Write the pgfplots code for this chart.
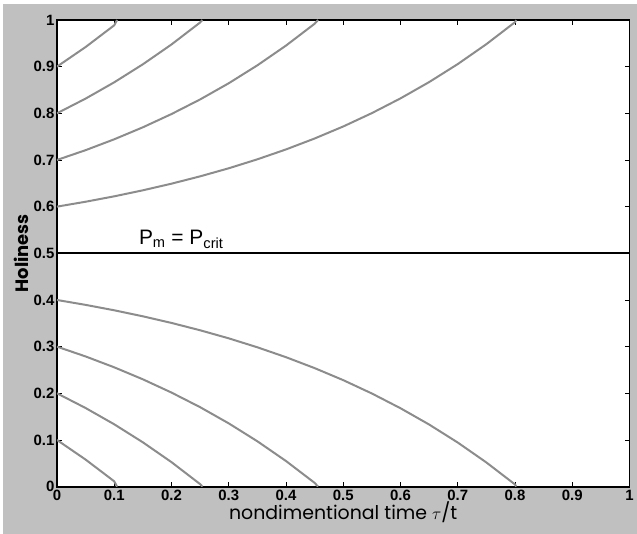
\documentclass[border=0pt]{standalone}
\usepackage{pgfplots}
\pgfplotsset{compat=1.18}
\usepackage{fontspec}
\setmainfont{Liberation Sans}
\newfontfamily\geo{Poppins}
\definecolor{bggray}{RGB}{192,192,192}
\definecolor{curve}{RGB}{140,140,140}
\begin{document}
\begin{tikzpicture}
\fill[white] (-57bp,-47bp) rectangle (580bp,487bp);
\fill[bggray] (-54bp,-47bp) rectangle (580bp,483bp);
\begin{axis}[
    scale only axis,
    width=573bp, height=467bp,
    xmin=0, xmax=1, ymin=0, ymax=1,
    axis background/.style={fill=white},
    axis line style={black, line width=1.8pt},
    tick style={black, line width=0.8pt},
    tick align=inside,
    major tick length=5bp,
    xtick={0,0.1,...,1}, ytick={0,0.1,...,1},
    xticklabels={0,0.1,0.2,0.3,0.4,0.5,0.6,0.7,0.8,0.9,1},
    yticklabels={0,0.1,0.2,0.3,0.4,0.5,0.6,0.7,0.8,0.9,1},
    ticklabel style={font=\fontsize{15}{15}\selectfont\bfseries},
    xticklabel style={yshift=0bp},
    yticklabel style={xshift=1bp},
    xlabel={\geo nondimentional time $\tau$/t},
    ylabel={\geo Holiness},
    xlabel style={font=\fontsize{19}{19}\selectfont, yshift=6bp},
    ylabel style={font=\fontsize{18}{18}\selectfont\bfseries, yshift=-2bp},
]
% lower branch
\addplot[curve, line width=2pt] coordinates {(0,0.4)(0.05,0.3895)(0.1,0.3779)(0.15,0.365)(0.2,0.3508)(0.25,0.3351)(0.3,0.3178)(0.35,0.2986)(0.4,0.2774)(0.45,0.254)(0.5,0.2282)(0.55,0.1996)(0.6,0.168)(0.65,0.1331)(0.7,0.0945)(0.75,0.0518)(0.8,0.0047)(0.802,0)};
\addplot[curve, line width=2pt] coordinates {(0,0.3)(0.05,0.279)(0.1,0.2557)(0.15,0.23)(0.2,0.2016)(0.25,0.1703)(0.3,0.1356)(0.35,0.0972)(0.4,0.0549)(0.45,0.0081)(0.456,0)};
\addplot[curve, line width=2pt] coordinates {(0,0.2)(0.05,0.1685)(0.1,0.1336)(0.15,0.095)(0.2,0.0525)(0.25,0.0054)(0.254,0)};
\addplot[curve, line width=2pt] coordinates {(0,0.1)(0.05,0.058)(0.1,0.0114)(0.105,0)};
% upper branch
\addplot[curve, line width=2pt] coordinates {(0,0.6)(0.05,0.6105)(0.1,0.6221)(0.15,0.635)(0.2,0.6492)(0.25,0.6649)(0.3,0.6822)(0.35,0.7014)(0.4,0.7226)(0.45,0.746)(0.5,0.7718)(0.55,0.8004)(0.6,0.832)(0.65,0.8669)(0.7,0.9055)(0.75,0.9482)(0.8,0.9953)(0.802,1)};
\addplot[curve, line width=2pt] coordinates {(0,0.7)(0.05,0.721)(0.1,0.7443)(0.15,0.77)(0.2,0.7984)(0.25,0.8297)(0.3,0.8644)(0.35,0.9028)(0.4,0.9451)(0.45,0.9919)(0.456,1)};
\addplot[curve, line width=2pt] coordinates {(0,0.8)(0.05,0.8315)(0.1,0.8664)(0.15,0.905)(0.2,0.9475)(0.25,0.9946)(0.254,1)};
\addplot[curve, line width=2pt] coordinates {(0,0.9)(0.05,0.942)(0.1,0.9886)(0.105,1)};
% critical line
\addplot[black, line width=1.8pt] coordinates {(0,0.5)(1,0.5)};
\node[anchor=south west, font=\fontsize{21}{21}\selectfont, inner sep=0pt] at (axis cs:0.143,0.51) {P\textsubscript{m} = P\textsubscript{crit}};
\end{axis}
\end{tikzpicture}
\end{document}
